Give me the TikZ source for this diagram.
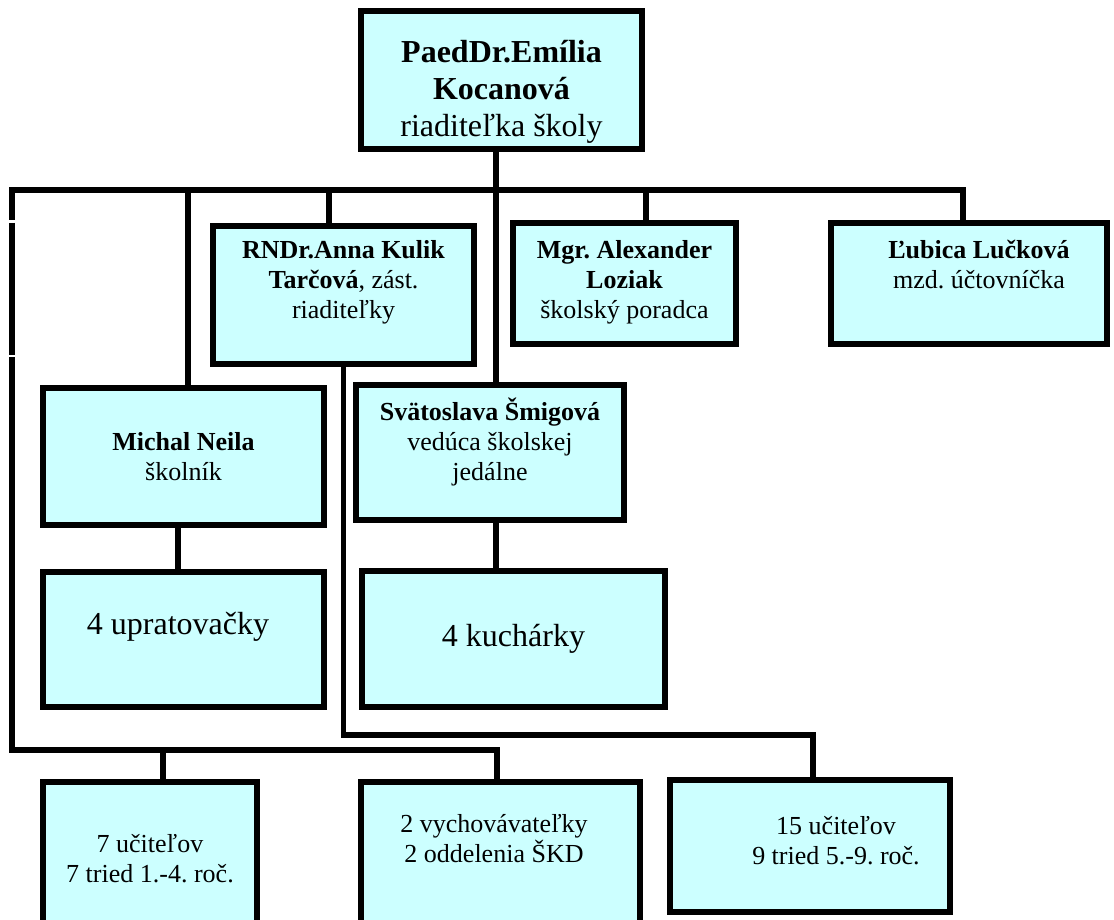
\documentclass[tikz,border=0pt]{standalone}
\usepackage{fontspec}
\setmainfont{Liberation Serif}
\frenchspacing
\definecolor{boxcyan}{RGB}{204,255,255}
\newcommand{\dpfix}[1]{\rule[-#1]{0pt}{#1}}
\newcommand{\htfix}[1]{\rule{0pt}{#1}}

\begin{document}
\begin{tikzpicture}[x=1pt,y=-1pt,
    box/.style={draw, line width=6pt, fill=boxcyan, align=center, inner sep=0pt,
      font=\fontsize{26}{30}\selectfont},
    conn/.style={line width=5.5pt}]
\path[use as bounding box, clip] (0,0) rectangle (1114,920);

% boxes
\node[box, font=\fontsize{32}{37}\selectfont, minimum width=281pt, minimum height=138pt] (boss) at (501.5,80)
  {\htfix{46pt}\textbf{PaedDr.Emília}\\ \textbf{Kocanová}\\ riaditeľka školy};
\node[box, minimum width=261pt, minimum height=138pt] (tarc) at (343.5,295)
  {\textbf{RNDr.Anna Kulik}\\ \textbf{Tarčová}, zást.\\ riaditeľky\dpfix{32pt}};
\node[box, minimum width=223pt, minimum height=121pt] (mgr) at (624.5,283.5)
  {\textbf{Mgr. Alexander}\\ \textbf{Loziak}\\ školský poradca\dpfix{9pt}};
\node[box, minimum width=276pt, minimum height=121pt] (lub) at (969,283.5)
  {\hspace*{20pt}\textbf{Ľubica Lučková}\\ \hspace*{20pt}mzd. účtovníčka\dpfix{39pt}};
\node[box, minimum width=281pt, minimum height=137pt] (michal) at (183.5,456.5)
  {\textbf{Michal Neila}\\ školník};
\node[box, minimum width=268pt, minimum height=135pt] (svat) at (490,452.5)
  {\textbf{Svätoslava Šmigová}\\ vedúca školskej\\ jedálne\dpfix{27pt}};
\node[box, font=\fontsize{32}{37}\selectfont, minimum width=281pt, minimum height=135pt] (uprat) at (183.5,639.5)
  {4 upratovačky\hspace*{11pt}\dpfix{32pt}};
\node[box, font=\fontsize{32}{37}\selectfont, minimum width=303pt, minimum height=136pt] (kuch) at (513.5,639)
  {4 kuchárky};
\node[box, minimum width=214pt, minimum height=165pt] (ucit14) at (150,864.5)
  {7 učiteľov\\ 7 tried 1.-4. roč.\dpfix{13pt}};
\node[box, minimum width=279pt, minimum height=165pt] (vych) at (500.5,864.5)
  {2 vychovávateľky\hspace*{13pt}\\ 2 oddelenia ŠKD\hspace*{13pt}\dpfix{53pt}};
\node[box, minimum width=280pt, minimum height=132pt] (ucit59) at (810,846)
  {\hspace*{52pt}15 učiteľov\\ \hspace*{52pt}9 tried 5.-9. roč.\dpfix{12pt}};

% connectors
\coordinate (busL) at (12,190);
\coordinate (busR) at (963,190);
\coordinate (gapA) at (12,220);
\coordinate (gapB) at (12,223);
\coordinate (gapC) at (12,355);
\coordinate (gapD) at (12,357);
\coordinate (lowL) at (12,750);
\coordinate (lowR) at (497,750);
\coordinate (lowM) at (163,750);
\coordinate (michalup) at (188,190);
\coordinate (tarcup) at (329,190);
\coordinate (mgrup) at (646,190);
\coordinate (tarcR) at (813,735);

\draw[conn] ([xshift=-5.5pt]boss.south) -- ([xshift=-5.5pt]boss.south |- svat.north);
\draw[conn] (gapA) -- (busL) -- (busR) -- (busR |- lub.north);
\draw[conn] (gapB) -- (gapC);
\draw[conn] (gapD) -- (lowL) -- (lowR) -- (lowR |- vych.north);
\draw[conn] (lowM) -- (lowM |- ucit14.north);
\draw[conn] (michalup) -- (michalup |- michal.north);
\draw[conn] (tarcup) -- (tarcup |- tarc.north);
\draw[conn] (mgrup) -- (mgrup |- mgr.north);
\draw[conn] (tarc.south) -- (tarc.south |- tarcR) -- (tarcR) -- (tarcR |- ucit59.north);
\draw[conn] ([xshift=-5.5pt]michal.south) -- ([xshift=-5.5pt]michal.south |- uprat.north);
\draw[conn] ([xshift=6pt]svat.south) -- ([xshift=6pt]svat.south |- kuch.north);
\end{tikzpicture}
\end{document}
